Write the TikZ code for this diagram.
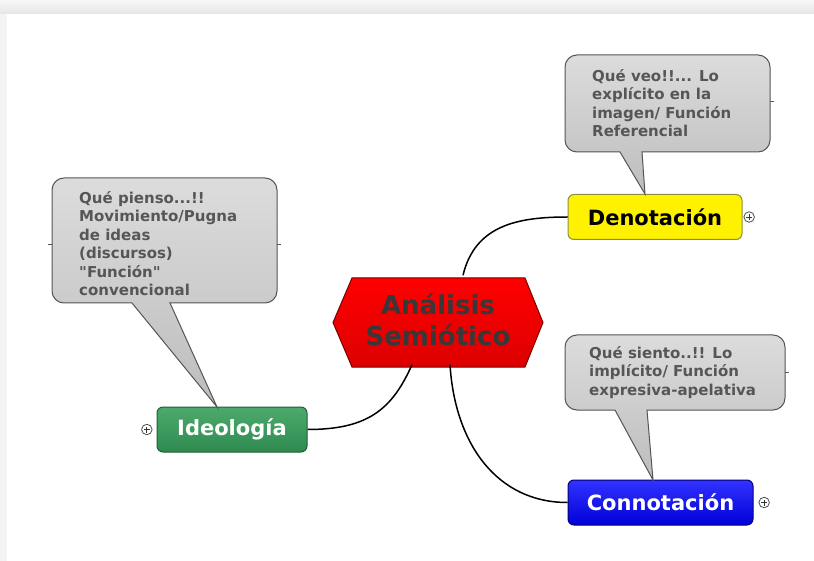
\documentclass[tikz,border=0pt]{standalone}
\usepackage{fontspec}
\setmainfont{DejaVu Sans}[Ligatures=TeXOff]
\usepackage{tikz}
\usetikzlibrary{calc,positioning}
\definecolor{pagegray}{HTML}{F3F3F3}
\definecolor{notetop}{HTML}{DCDCDC}
\definecolor{notebot}{HTML}{BDBDBD}
\definecolor{noteedge}{HTML}{555555}
\definecolor{notetext}{HTML}{565656}
\definecolor{hexedge}{HTML}{7A0000}
\definecolor{hexbot}{HTML}{DD0000}
\definecolor{yellowedge}{HTML}{8E8E3A}
\definecolor{greentop}{HTML}{4DAA6C}
\definecolor{greenbot}{HTML}{2E8A50}
\definecolor{greenedge}{HTML}{1F5E36}
\definecolor{bluetop}{HTML}{3333FF}
\definecolor{bluebot}{HTML}{0000D8}
\definecolor{blueedge}{HTML}{00007A}

\begin{document}
\begin{tikzpicture}[x=1pt,y=-1pt,
    topic/.style={rounded corners=6pt, line width=1pt, minimum height=45pt, inner sep=0pt,
      font=\bfseries\fontsize{21}{24}\selectfont},
    note/.style={draw=noteedge, line width=1pt, top color=notetop, bottom color=notebot},
    notetext/.style={anchor=north west, align=left, inner sep=0pt, text=notetext,
      font=\bfseries\fontsize{15}{18.5}\selectfont},
    link/.style={line width=1.5pt},
    tick/.style={noteedge, line width=1pt},
    plusmark/.style={circle, draw=gray!60!black, fill=white, minimum size=10.5pt, inner sep=0pt,
      line width=0.8pt,
      path picture={\draw[gray!40!black, line width=0.9pt]
        (path picture bounding box.center) ++(-3pt,0) -- ++(6pt,0)
        (path picture bounding box.center) ++(0,-3pt) -- ++(0,6pt);}}]
  \useasboundingbox (0,0) rectangle (814,561);
  % page background
  \fill[pagegray] (0,0) rectangle (814,561);
  \shade[top color=pagegray!60, bottom color=gray!20] (0,0) rectangle (814,14);
  \fill[white] (7,14) rectangle (814,561);

  % Draw the central hexagon
  \draw[hexedge, line width=1pt, top color=red, bottom color=hexbot]
    (352,278) -- (525,278) -- (543,322.5) -- (525,367) -- (352,367) -- (333,322.5) -- cycle;
  \node[minimum width=173pt, minimum height=89pt, inner sep=0pt, align=center, text=black!78,
    font=\bfseries\fontsize{26}{31}\selectfont] (center) at (438,320) {Análisis\\Semiótico};

  % the three topics
  \node[topic, fill=yellow, draw=yellowedge, minimum width=174pt] (deno) at (655,217) {Denotación};
  \node[topic, top color=greentop, bottom color=greenbot, draw=greenedge, text=white,
    minimum width=150pt] (ideo) at (232,429.5) {Ideología};
  \node[topic, top color=bluetop, bottom color=bluebot, draw=blueedge, text=white,
    minimum width=185pt] (conno) at (660.5,502.5) {Connotación};
  \node[plusmark, right=1pt of deno] (denoplus) {};
  \node[plusmark, left=4pt of ideo] (ideoplus) {};
  \node[plusmark, right=5pt of conno] (connoplus) {};

  % links
  \draw[link] (deno.west) .. controls +(-50,0) and +(12,-50) .. ($(center.north)+(25,0)$);
  \draw[link] (ideo.east) .. controls +(60,0) and +(-20,45) .. ($(center.south)+(-26,0)$);
  \draw[link] ($(center.south)+(12,0)$) .. controls +(5,80) and +(-70,0) .. (conno.west);

  % callouts
  \draw[tick] (770,102) -- ++(4,0);
  \draw[note] (620,152) -- (577,152) arc (90:180:12) -- (565,67) arc (180:270:12)
    -- (758,55) arc (270:360:12) -- (770,140) arc (0:90:12) -- (642,152) -- (645,194) -- cycle;
  \node[notetext] (denonote) at (592,69) {Qué veo!!... Lo\\explícito en la\\imagen/ Función\\Referencial};

  \draw[tick] (52,245) -- ++(-4,0);
  \draw[tick] (277,245) -- ++(4,0);
  \draw[note] (132,303) -- (64,303) arc (90:180:12) -- (52,190) arc (180:270:12)
    -- (265,178) arc (270:360:12) -- (277,291) arc (0:90:12) -- (170,303) -- (217,407) -- cycle;
  \node[notetext] (ideonote) at (79,191) {Qué pienso...!!\\Movimiento/Pugna\\de ideas\\(discursos)\\"Función"\\convencional};

  \draw[tick] (785,372) -- ++(4,0);
  \draw[note] (615,410) -- (577,410) arc (90:180:12) -- (565,347) arc (180:270:12)
    -- (773,335) arc (270:360:12) -- (785,398) arc (0:90:12) -- (647,410) -- (653,480) -- cycle;
  \node[notetext] (connonote) at (589,346) {Qué siento..!! Lo\\implícito/ Función\\expresiva-apelativa};
\end{tikzpicture}
\end{document}
